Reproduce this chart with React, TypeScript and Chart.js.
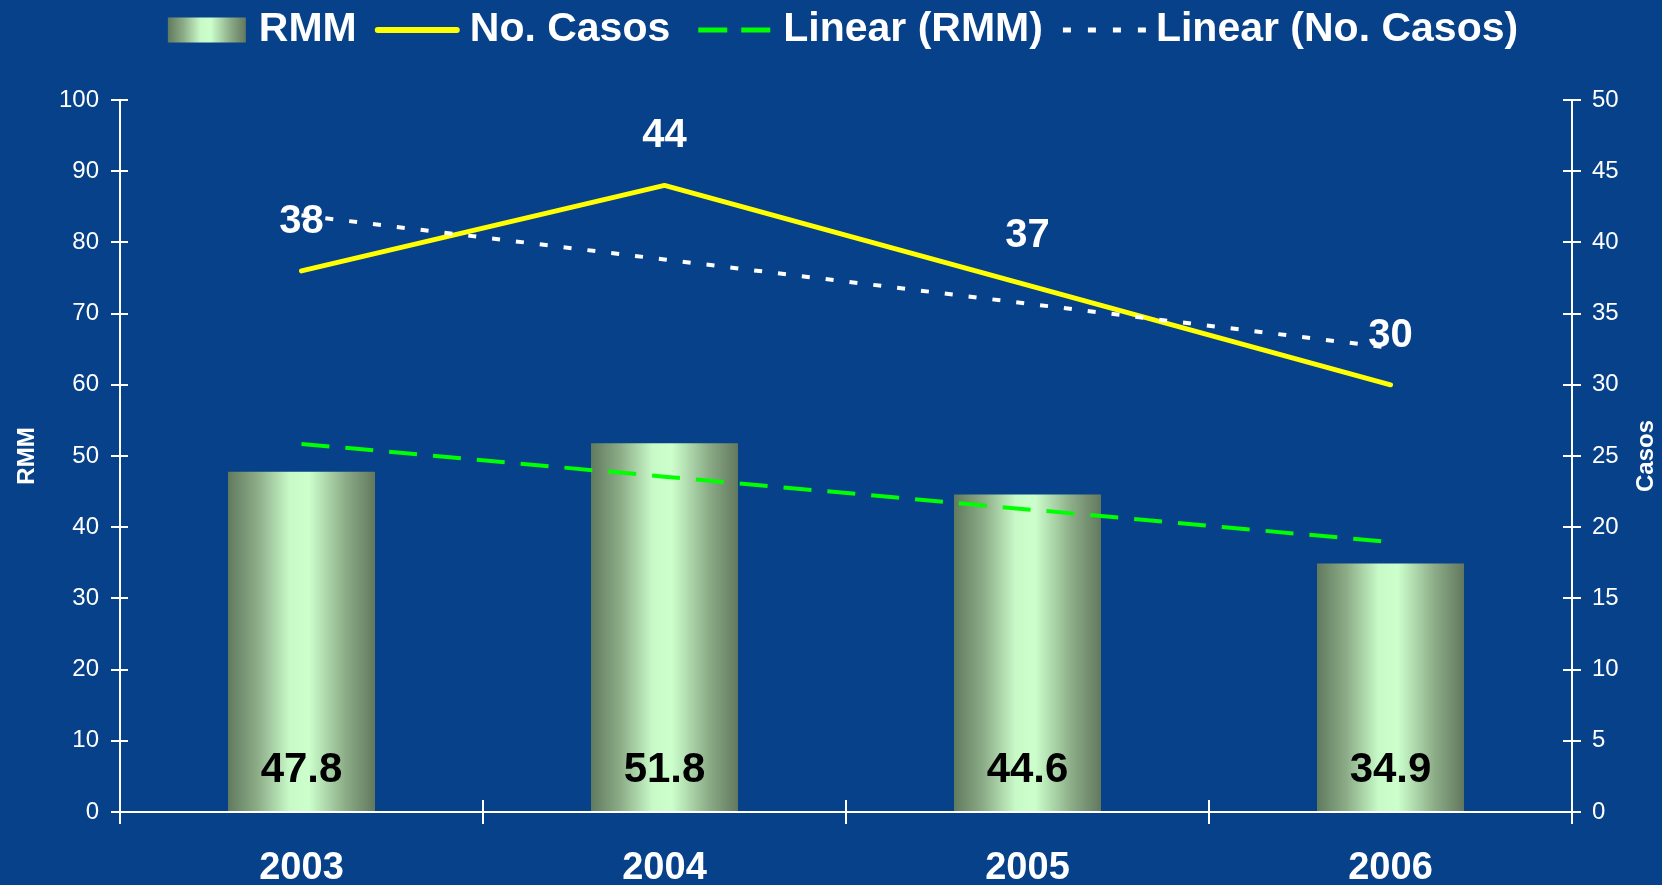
import React, { useEffect, useRef } from "react";
import { Chart, registerables } from "chart.js";

Chart.register(...registerables);

// ---- Data ----
const years = ["2003", "2004", "2005", "2006"];
const rmmValues = [47.8, 51.8, 44.6, 34.9];
const casosValues = [38, 44, 37, 30];
const rmmTrend = [51.7, 47.1, 42.5, 37.9];
const casosTrend = [41.9, 38.8, 35.7, 32.6];
const legendLabels = ["RMM", "No. Casos", "Linear (RMM)", "Linear (No. Casos)"];
const leftTitle = "RMM";
const rightTitle = "Casos";

// ---- Styles ----
const FONT = "'Liberation Sans', Arial, Helvetica, sans-serif";
const BG = "rgb(6,65,137)";
const BAR_PCT = 0.405;
const YELLOW = "#ffff00";
const GREEN = "#00ff00";
const WHITE = "#ffffff";

function barGradient(ctx: CanvasRenderingContext2D, x0: number, x1: number) {
  const g = ctx.createLinearGradient(x0, 0, x1, 0);
  g.addColorStop(0, "rgb(96,122,94)");
  g.addColorStop(0.2, "rgb(140,172,135)");
  g.addColorStop(0.42, "rgb(200,250,200)");
  g.addColorStop(0.55, "rgb(204,255,204)");
  g.addColorStop(0.8, "rgb(140,172,135)");
  g.addColorStop(1, "rgb(98,120,94)");
  return g;
}

const bgPlugin = {
  id: "bgFill",
  beforeDraw(chart: any) {
    const ctx = chart.ctx;
    ctx.save();
    ctx.fillStyle = BG;
    ctx.fillRect(0, 0, chart.width, chart.height);
    ctx.restore();
  },
};

const extrasPlugin = {
  id: "extras",
  afterDraw(chart: any) {
    const ctx: CanvasRenderingContext2D = chart.ctx;
    const a = chart.chartArea;
    const { x, y, y1 } = chart.scales;
    ctx.save();
    // inner halves of tick marks
    ctx.strokeStyle = WHITE;
    ctx.lineWidth = 2;
    ctx.beginPath();
    y.ticks.forEach((_: any, i: number) => {
      const py = Math.round(y.getPixelForTick(i));
      ctx.moveTo(a.left, py);
      ctx.lineTo(a.left + 8, py);
    });
    y1.ticks.forEach((_: any, i: number) => {
      const py = Math.round(y1.getPixelForTick(i));
      ctx.moveTo(a.right - 9, py);
      ctx.lineTo(a.right, py);
    });
    const n = years.length;
    for (let i = 1; i < n; i++) {
      const px = Math.round(x.left + (i * x.width) / n);
      ctx.moveTo(px, a.bottom - 12);
      ctx.lineTo(px, a.bottom);
    }
    ctx.stroke();

    // axis titles
    ctx.fillStyle = WHITE;
    ctx.font = `bold 24px ${FONT}`;
    ctx.textAlign = "center";
    ctx.textBaseline = "middle";
    const midY = (a.top + a.bottom) / 2;
    ctx.save();
    ctx.translate(27, midY);
    ctx.rotate(-Math.PI / 2);
    ctx.fillText(leftTitle, 0, 0);
    ctx.restore();
    ctx.save();
    ctx.translate(1646, midY);
    ctx.rotate(-Math.PI / 2);
    ctx.fillText(rightTitle, 0, 0);
    ctx.restore();

    // data labels
    const barMeta = chart.getDatasetMeta(0);
    ctx.fillStyle = "#000000";
    ctx.font = `bold 42px ${FONT}`;
    barMeta.data.forEach((el: any, i: number) => {
      ctx.fillText(rmmValues[i].toFixed(1), el.x, el.base - 41);
    });
    const lineMeta = chart.getDatasetMeta(1);
    ctx.fillStyle = WHITE;
    ctx.font = `bold 40px ${FONT}`;
    lineMeta.data.forEach((el: any, i: number) => {
      ctx.fillText(String(casosValues[i]), el.x, el.y - 49);
    });

    // legend
    ctx.font = `bold 41px ${FONT}`;
    ctx.textAlign = "left";
    const symW = [78, 85, 85, 85];
    const symGap = [13, 10, 10, 10];
    const itemGap = 18;
    const widths = legendLabels.map((t) => ctx.measureText(t).width);
    let total = 0;
    legendLabels.forEach((_, i) => {
      total += symW[i] + symGap[i] + widths[i] + (i < legendLabels.length - 1 ? itemGap : 0);
    });
    let lx = 843 - total / 2;
    const ly = 30;
    legendLabels.forEach((label, i) => {
      ctx.save();
      if (i === 0) {
        ctx.fillStyle = barGradient(ctx, lx, lx + symW[i]);
        ctx.fillRect(lx, ly - 12.5, symW[i], 25);
      } else {
        ctx.beginPath();
        if (i === 1) {
          ctx.strokeStyle = YELLOW;
          ctx.lineWidth = 6;
          ctx.lineCap = "round";
          ctx.moveTo(lx + 3, ly);
          ctx.lineTo(lx + symW[i] - 3, ly);
        } else if (i === 2) {
          ctx.strokeStyle = GREEN;
          ctx.lineWidth = 5;
          ctx.setLineDash([29, 14]);
          ctx.moveTo(lx + 10, ly);
          ctx.lineTo(lx + symW[i], ly);
        } else {
          ctx.strokeStyle = WHITE;
          ctx.lineWidth = 5;
          ctx.setLineDash([8, 17]);
          ctx.moveTo(lx + 2, ly);
          ctx.lineTo(lx + symW[i], ly);
        }
        ctx.stroke();
      }
      ctx.restore();
      lx += symW[i] + symGap[i];
      ctx.fillStyle = WHITE;
      ctx.textBaseline = "middle";
      ctx.fillText(label, lx, ly);
      lx += widths[i] + itemGap;
    });
    ctx.restore();
  },
};

export default function App() {
  const ref = useRef<HTMLCanvasElement | null>(null);

  useEffect(() => {
    document.body.style.margin = "0";
    document.body.style.background = BG;
    const canvas = ref.current;
    if (!canvas) return;

    const chart = new Chart(canvas, {
      type: "bar",
      data: {
        labels: years,
        datasets: [
          {
            type: "bar",
            label: legendLabels[0],
            data: rmmValues,
            yAxisID: "y",
            order: 4,
            barPercentage: BAR_PCT,
            categoryPercentage: 1,
            borderWidth: 0,
            backgroundColor: (c: any) => {
              const ch = c.chart;
              const xs = ch.scales && ch.scales.x;
              if (!xs || !ch.chartArea || c.dataIndex === undefined) return "rgb(200,250,200)";
              const cx = xs.getPixelForValue(c.dataIndex);
              const half = ((xs.width / years.length) * BAR_PCT) / 2;
              return barGradient(ch.ctx, cx - half, cx + half);
            },
          } as any,
          {
            type: "line",
            label: legendLabels[1],
            data: casosValues,
            yAxisID: "y1",
            order: 3,
            borderColor: YELLOW,
            borderWidth: 5,
            borderCapStyle: "round",
            borderJoinStyle: "round",
            pointRadius: 0,
            tension: 0,
            fill: false,
          } as any,
          {
            type: "line",
            label: legendLabels[2],
            data: rmmTrend,
            yAxisID: "y",
            order: 2,
            borderColor: GREEN,
            borderWidth: 4,
            borderDash: [28, 16],
            pointRadius: 0,
            fill: false,
          } as any,
          {
            type: "line",
            label: legendLabels[3],
            data: casosTrend,
            yAxisID: "y1",
            order: 1,
            borderColor: WHITE,
            borderWidth: 4,
            borderDash: [8, 16],
            pointRadius: 0,
            fill: false,
          } as any,
        ],
      },
      options: {
        responsive: false,
        animation: false,
        devicePixelRatio: 1,
        layout: { padding: { top: 100, left: 0, right: 0, bottom: 0 } },
        plugins: {
          legend: { display: false },
          tooltip: { enabled: false },
          title: { display: false },
        },
        scales: {
          x: {
            offset: true,
            grid: {
              offset: true,
              drawOnChartArea: false,
              drawTicks: true,
              tickLength: 12,
              color: WHITE,
              lineWidth: 2,
            },
            border: { display: true, color: WHITE, width: 2 },
            ticks: {
              color: WHITE,
              padding: 22,
              font: { family: FONT, size: 38, weight: "bold" },
              maxRotation: 0,
            },
            afterFit: (s: any) => {
              s.height = 73;
            },
          },
          y: {
            position: "left",
            min: 0,
            max: 100,
            grid: {
              drawOnChartArea: false,
              drawTicks: true,
              tickLength: 9,
              color: WHITE,
              lineWidth: 2,
            },
            border: { display: true, color: WHITE, width: 2 },
            ticks: {
              stepSize: 10,
              color: WHITE,
              padding: 12,
              font: { family: FONT, size: 24 },
            },
            afterFit: (s: any) => {
              s.width = 120;
            },
          },
          y1: {
            position: "right",
            min: 0,
            max: 50,
            grid: {
              drawOnChartArea: false,
              drawTicks: true,
              tickLength: 9,
              color: WHITE,
              lineWidth: 2,
            },
            border: { display: true, color: WHITE, width: 2 },
            ticks: {
              stepSize: 5,
              color: WHITE,
              padding: 11,
              font: { family: FONT, size: 24 },
            },
            afterFit: (s: any) => {
              s.width = 90;
            },
          },
        },
      } as any,
      plugins: [bgPlugin, extrasPlugin],
    });

    return () => chart.destroy();
  }, []);

  return (
    <div style={{ width: 1662, height: 885, background: BG }}>
      <canvas ref={ref} width={1662} height={885} style={{ display: "block" }} />
    </div>
  );
}
